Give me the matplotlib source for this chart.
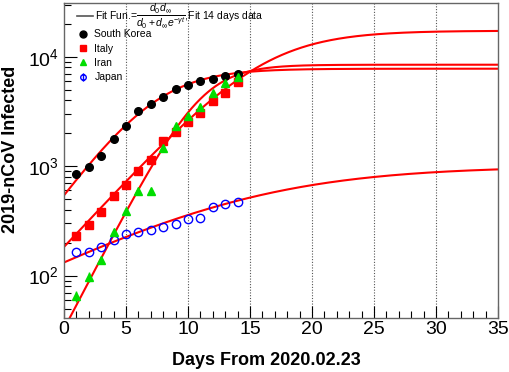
import numpy as np
import matplotlib
matplotlib.use("Agg")
import matplotlib.pyplot as plt
from matplotlib.lines import Line2D
from matplotlib.path import Path
from matplotlib.ticker import LogLocator, MultipleLocator, NullFormatter

plt.rcParams['font.family'] = ['Liberation Sans', 'DejaVu Sans']
plt.rcParams['mathtext.fontset'] = 'custom'
plt.rcParams['mathtext.rm'] = 'Liberation Sans'
plt.rcParams['mathtext.it'] = 'Liberation Sans:italic'

days = np.arange(1, 15)
korea = [841, 986, 1251, 1758, 2310, 3162, 3720, 4330, 5117, 5536, 5970, 6250, 6670, 6970]
italy = [232, 289, 380, 534, 671, 901, 1134, 1714, 2052, 2530, 3078, 3927, 4680, 5930]
iran = [65, 98, 140, 250, 390, 596, 596, 1479, 2310, 2848, 3459, 4640, 5712, 6490]
japan = [164, 165, 182, 212, 239, 248, 262, 277, 297, 331, 334, 424, 448, 471]

# fit parameters (d0, d_inf, gamma)
fit_korea = (542, 7780, 0.354)
fit_italy = (183, 17300, 0.2816)
fit_iran = (32.7, 8460, 0.50)
fit_japan = (132, 1000, 0.13)

def fitfun(t, d0, dinf, g):
    return d0 * dinf / (d0 + (dinf - d0) * np.exp(-g * t))

fig = plt.figure(figsize=(5.10, 3.72), dpi=100)
ax = fig.add_axes([64/510, 1-318/372, (498-64)/510, (318-3)/372])
ax.set_yscale('log')
ax.set_xlim(0, 35)
ax.set_ylim(41, 3.1e4)

for x in [5, 10, 15, 20, 25, 30]:
    ax.axvline(x, color='#555555', lw=0.8, ls=(0, (1, 1.5)), zorder=0)

t = np.linspace(0, 35, 600)
for p in [fit_korea, fit_italy, fit_iran, fit_japan]:
    ax.plot(t, fitfun(t, *p), color='#ff0000', lw=1.5, zorder=2)

def err(v):
    return np.sqrt(np.array(v, dtype=float))

ax.errorbar(days, korea, yerr=err(korea), fmt='o', color='black', ms=5.5, elinewidth=1, capsize=0, zorder=3)
ax.errorbar(days, italy, yerr=err(italy), fmt='s', color='#ff0000', ms=5.5, elinewidth=1, capsize=0, zorder=3)
ax.errorbar(days, iran, yerr=err(iran), fmt='^', color='#00dd00', ms=6, elinewidth=1, capsize=0, zorder=3)
ax.plot(days, japan, 'o', mfc='none', mec='#0000ff', ms=6, mew=1, zorder=3)

ax.xaxis.set_major_locator(MultipleLocator(5))
ax.xaxis.set_minor_locator(MultipleLocator(1))
ax.yaxis.set_major_locator(LogLocator(base=10, numticks=10))
ax.yaxis.set_minor_locator(LogLocator(base=10, subs=np.arange(2, 10), numticks=20))
ax.yaxis.set_minor_formatter(NullFormatter())
ax.tick_params(axis='both', which='both', direction='in', top=False, right=False)
ax.tick_params(axis='both', which='major', length=9, width=0.8, labelsize=14)
ax.tick_params(axis='both', which='minor', length=5, width=0.8)
ax.tick_params(axis='x', pad=2)
for s in ax.spines.values():
    s.set_color('#666666')
    s.set_linewidth(1)

ax.set_xlabel('Days From 2020.02.23', fontsize=13, fontweight='bold')
ax.set_ylabel('2019-nCoV Infected', fontsize=13, fontweight='bold')
ax.xaxis.set_label_coords(0.467, -0.108)
ax.yaxis.set_label_coords(-0.104, 0.535)

# legend: fit function entry
fit_handle = Line2D([], [], color='#555555', lw=1.2)
leg1 = ax.legend([fit_handle],
                 [r'Fit Fun.=$\dfrac{d_0d_\infty}{d_0+d_\infty e^{-\gamma t}}$,Fit 14 days data'],
                 loc='upper left', bbox_to_anchor=(0.03, 1.003), frameon=False,
                 fontsize=7.5, handlelength=1.5, handletextpad=0.2, borderaxespad=0.0,
                 borderpad=0.0)
ax.add_artist(leg1)

phi = Path.make_compound_path(Path.unit_circle(),
                              Path([[0, -1.5], [0, 1.5]], [Path.MOVETO, Path.LINETO]))
handles = [
    Line2D([], [], marker='o', color='black', ls='none', ms=5),
    Line2D([], [], marker='s', color='#ff0000', ls='none', ms=5),
    Line2D([], [], marker='^', color='#00dd00', ls='none', ms=5),
    Line2D([], [], marker=phi, mfc='none', mec='#0000ff', ls='none', ms=6, mew=1),
]
labels = ['South Korea', 'Italy', 'Iran', 'Japan']
ax.legend(handles, labels, loc='upper left', bbox_to_anchor=(0.015, 0.93), frameon=False,
          fontsize=7.5, handlelength=1.6, handletextpad=0.3, labelspacing=0.42,
          borderaxespad=0.0)

fig.savefig('out.png', dpi=100, facecolor='white')
